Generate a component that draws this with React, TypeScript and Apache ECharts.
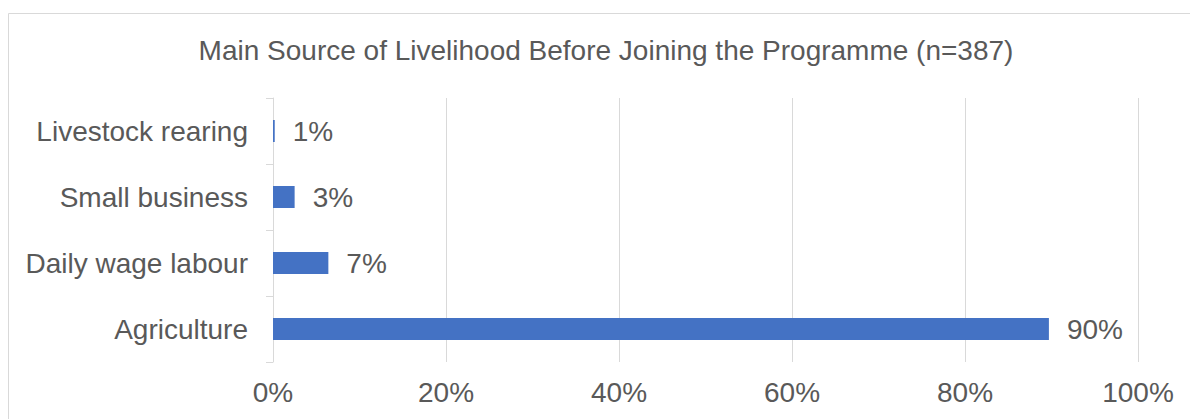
import React, { useEffect, useRef } from "react";
import * as echarts from "echarts";

const TITLE = "Main Source of Livelihood Before Joining the Programme (n=387)";
const categories = ["Agriculture", "Daily wage labour", "Small business", "Livestock rearing"];
const values = [89.7, 6.4, 2.5, 0.2];
const valueLabels = ["90%", "7%", "3%", "1%"];
const xTicks = [0, 20, 40, 60, 80, 100];

const TEXT = "#595959";
const GRID = "#d9d9d9";
const BAR = "#4472C4";
const FONT = "Liberation Sans, Arial, sans-serif";

export default function App() {
  const ref = useRef<HTMLDivElement>(null);
  useEffect(() => {
    if (!ref.current) return;
    const chart = echarts.init(ref.current, undefined, { renderer: "svg" });
    chart.setOption({
      animation: false,
      backgroundColor: "#ffffff",
      textStyle: { fontFamily: FONT },
      title: {
        text: TITLE,
        left: 601,
        top: 31,
        textAlign: "center",
        textStyle: { color: TEXT, fontSize: 28, fontWeight: "normal", fontFamily: FONT },
      },
      graphic: [
        {
          type: "rect",
          shape: { x: 8.5, y: 13.5, width: 1200, height: 420 },
          style: { fill: "none", stroke: GRID, lineWidth: 1 },
          silent: true,
        },
      ],
      grid: { left: 273, right: 52, top: 98, bottom: 57, containLabel: false },
      xAxis: {
        type: "value",
        min: xTicks[0],
        max: xTicks[xTicks.length - 1],
        interval: 20,
        axisLine: { show: false },
        axisTick: { show: false },
        splitLine: { show: true, lineStyle: { color: GRID, width: 1 } },
        axisLabel: { color: TEXT, fontSize: 28, margin: 16, formatter: "{value}%", fontFamily: FONT },
      },
      yAxis: {
        type: "category",
        data: categories,
        axisLine: { show: true, lineStyle: { color: GRID, width: 1 } },
        axisTick: { show: true, length: 7, lineStyle: { color: GRID } },
        axisLabel: { color: TEXT, fontSize: 28, margin: 25, fontFamily: FONT },
      },
      series: [
        {
          type: "bar",
          data: values,
          barWidth: 22,
          itemStyle: { color: BAR },
          label: {
            show: true,
            position: "right",
            distance: 18,
            color: TEXT,
            fontSize: 28,
            fontFamily: FONT,
            formatter: (p: any) => valueLabels[p.dataIndex],
          },
        },
      ],
    });
    return () => chart.dispose();
  }, []);
  return (
    <div
      ref={ref}
      style={{ position: "fixed", left: 0, top: 0, width: 1190, height: 419 }}
    />
  );
}
